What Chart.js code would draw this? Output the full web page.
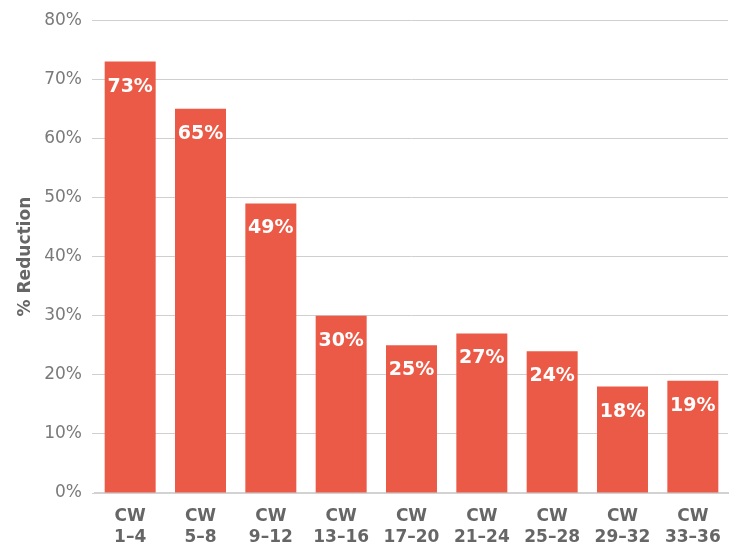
<!DOCTYPE html>
<html>
<head>
<meta charset="utf-8">
<script src="https://cdn.jsdelivr.net/npm/chart.js@4"></script>
<style>
  html, body { margin: 0; padding: 0; background: #fff; }
  #wrap { width: 738px; height: 546px; }
</style>
</head>
<body>
<div id="wrap"><canvas id="reductionChart"></canvas></div>
<script>
// data
const weekLabels = [['CW', '1–4'], ['CW', '5–8'], ['CW', '9–12'], ['CW', '13–16'], ['CW', '17–20'],
                    ['CW', '21–24'], ['CW', '25–28'], ['CW', '29–32'], ['CW', '33–36']];
const reductionValues = [73, 65, 49, 30, 25, 27, 24, 18, 19];
const yTickMax = 80;
const yTickStep = 10;

const barColor = '#eb5a46';
const fontName = '"DejaVu Sans", sans-serif';

// draws the white % label inside each bar, near its top
const barValueLabels = {
    id: 'barValueLabels',
    afterDatasetsDraw(chart) {
        const ctx = chart.ctx;
        const meta = chart.getDatasetMeta(0);
        ctx.save();
        ctx.fillStyle = '#ffffff';
        ctx.font = 'bold 19px ' + fontName;
        ctx.textAlign = 'center';
        ctx.textBaseline = 'middle';
        meta.data.forEach(function(bar, i) {
            ctx.fillText(reductionValues[i] + '%', bar.x, bar.y + 25);
        });
        ctx.restore();
    }
};

document.addEventListener('DOMContentLoaded', function() {
    const ctx = document.getElementById('reductionChart').getContext('2d');
    new Chart(ctx, {
        type: 'bar',
        data: {
            labels: weekLabels,
            datasets: [{
                label: '% Reduction',
                data: reductionValues,
                backgroundColor: barColor,
                borderWidth: 0,
                categoryPercentage: 1.0,
                barPercentage: 0.725
            }]
        },
        options: {
            responsive: true,
            maintainAspectRatio: false,
            animation: false,
            layout: { padding: { top: 17, right: 10, left: 0, bottom: 0 } },
            plugins: {
                legend: { display: false },
                tooltip: { enabled: false }
            },
            scales: {
                x: {
                    grid: { display: false, drawTicks: false },
                    border: { display: true, color: '#d2d2d2', width: 2 },
                    ticks: {
                        color: '#666666',
                        padding: 13,
                        maxRotation: 0,
                        font: { family: fontName, size: 17, weight: 'bold', lineHeight: 1.25 }
                    },
                    afterFit: function(scale) { scale.height = 53; }
                },
                y: {
                    min: 0,
                    max: yTickMax,
                    grid: { color: '#cfcfcf', lineWidth: 1, tickLength: 3 },
                    border: { display: false },
                    ticks: {
                        stepSize: yTickStep,
                        color: '#7a7a7a',
                        padding: 10,
                        font: { family: fontName, size: 17 },
                        callback: function(v) { return v + '%'; }
                    },
                    title: {
                        display: true,
                        text: '% Reduction',
                        color: '#666666',
                        padding: { top: 15, bottom: 0 },
                        font: { family: fontName, size: 17, weight: 'bold' }
                    },
                    afterFit: function(scale) { scale.width = 95; }
                }
            }
        },
        plugins: [barValueLabels]
    });
});
</script>
</body>
</html>
